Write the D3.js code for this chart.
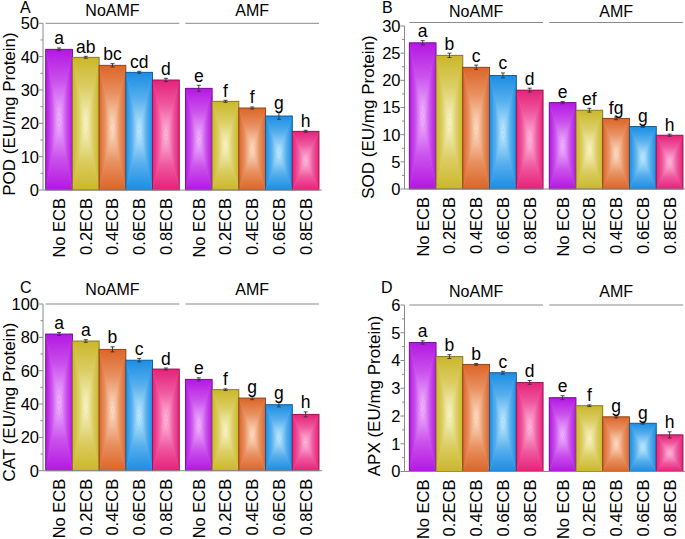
<!DOCTYPE html>
<html><head><meta charset="utf-8">
<script src="https://cdn.jsdelivr.net/npm/d3@7/dist/d3.min.js"></script>
<style>
html,body{margin:0;padding:0;background:#fff;}
svg{display:block;font-family:"Liberation Sans",Arial,sans-serif;}
</style></head>
<body>
<svg id="chart" width="685" height="539"></svg>
<script>
// ---------------- DATA ----------------
const groups = ["NoAMF", "AMF"];
const treatments = ["No ECB", "0.2ECB", "0.4ECB", "0.6ECB", "0.8ECB"];
const panelIds = ["A", "B", "C", "D"];
const yTitles = ["POD (EU/mg Protein)", "SOD (EU/mg Protein)", "CAT (EU/mg Protein)", "APX (EU/mg Protein)"];

// values in order: NoAMF (5 treatments), then AMF (5 treatments)
const podMean = [42.2, 39.8, 37.4, 35.3, 33.0, 30.5, 26.6, 24.6, 22.2, 17.6];
const podErr  = [0.4, 0.3, 0.5, 0.3, 0.5, 0.9, 0.3, 0.3, 1.0, 0.3];
const podLetters = ["a","ab","bc","cd","d","e","f","f","g","h"];
const podTicks = [0, 10, 20, 30, 40, 50];
const podMinor = [5, 15, 25, 35, 45];

const sodMean = [26.9, 24.6, 22.4, 20.9, 18.2, 15.9, 14.5, 13.0, 11.5, 9.9];
const sodErr  = [0.4, 0.4, 0.4, 0.45, 0.35, 0.2, 0.35, 0.25, 0.15, 0.2];
const sodLetters = ["a","b","c","c","d","e","ef","fg","g","h"];
const sodTicks = [0, 5, 10, 15, 20, 25, 30];
const sodMinor = [2.5, 7.5, 12.5, 17.5, 22.5, 27.5];

const catMean = [82.0, 77.8, 72.8, 66.3, 61.0, 54.8, 48.6, 43.6, 39.6, 33.8];
const catErr  = [0.9, 0.8, 1.5, 1.0, 0.6, 0.9, 0.5, 1.0, 1.3, 1.5];
const catLetters = ["a","a","b","c","d","e","f","g","g","h"];
const catTicks = [0, 20, 40, 60, 80, 100];
const catMinor = [10, 30, 50, 70, 90];

const apxMean = [4.65, 4.14, 3.86, 3.56, 3.21, 2.66, 2.37, 1.97, 1.74, 1.32];
const apxErr  = [0.06, 0.07, 0.03, 0.05, 0.07, 0.07, 0.03, 0.04, 0.03, 0.11];
const apxLetters = ["a","b","b","c","d","e","f","g","g","h"];
const apxTicks = [0, 1, 2, 3, 4, 5, 6];
const apxMinor = [0.5, 1.5, 2.5, 3.5, 4.5, 5.5];

const baseColors  = ["#b417e2", "#cbb72a", "#dc6528", "#1b8de4", "#e6217a"];
const lightColors = ["#f2bcff", "#faf6cc", "#fee2cc", "#c6eeff", "#ffbfe0"];

// ---------------- LAYOUT ----------------
const layout = [
  {ax: 43,    y0: 190,   yTop: 23.3, gx0: 45.7,  gx1: 319, xEnd: 322, titleX: 14.5, titleY: 114, letX: 20,  letY: 13,  headY: 16,  lineY: 23.3, tickX: 39},
  {ax: 404.5, y0: 189,   yTop: 26,   gx0: 409.3, gx1: 683, xEnd: 685, titleX: 374,  titleY: 117, letX: 382, letY: 13,  headY: 16.5,lineY: 22.5, tickX: 400.5},
  {ax: 43,    y0: 470.7, yTop: 304,  gx0: 45.7,  gx1: 319, xEnd: 322, titleX: 14.5, titleY: 402, letX: 20,  letY: 293, headY: 295, lineY: 304,  tickX: 39},
  {ax: 404.5, y0: 471.5, yTop: 305,  gx0: 409.3, gx1: 683, xEnd: 685, titleX: 380,  titleY: 396, letX: 381, letY: 293, headY: 296.5,lineY: 305, tickX: 400.5}
];
const panelData = [
  {mean: podMean, err: podErr, letters: podLetters, ticks: podTicks, minor: podMinor},
  {mean: sodMean, err: sodErr, letters: sodLetters, ticks: sodTicks, minor: sodMinor},
  {mean: catMean, err: catErr, letters: catLetters, ticks: catTicks, minor: catMinor},
  {mean: apxMean, err: apxErr, letters: apxLetters, ticks: apxTicks, minor: apxMinor}
];

const svg = d3.select("#chart");
const defs = svg.append("defs");
const axisColor = "#8a8a8a";

// rectangular (box) gradient made of four triangles, each with its own linear gradient
baseColors.forEach((c, i) => {
  const dirs = {
    L: {x1: 0, y1: 0, x2: 1, y2: 0},
    R: {x1: 1, y1: 0, x2: 0, y2: 0},
    T: {x1: 0, y1: 0, x2: 0, y2: 1},
    B: {x1: 0, y1: 1, x2: 0, y2: 0}
  };
  const mid = d3.interpolateRgb(c, lightColors[i])(0.35);
  Object.entries(dirs).forEach(([k, d]) => {
    const g = defs.append("linearGradient").attr("id", `g${i}${k}`)
      .attr("x1", d.x1).attr("y1", d.y1).attr("x2", d.x2).attr("y2", d.y2);
    g.append("stop").attr("offset", 0).attr("stop-color", c);
    g.append("stop").attr("offset", 0.45).attr("stop-color", mid);
    g.append("stop").attr("offset", 1).attr("stop-color", lightColors[i]);
  });
});

panelIds.forEach((pid, pi) => {
  const L = layout[pi], D = panelData[pi];
  const g = svg.append("g");
  const yMax = D.ticks[D.ticks.length - 1];
  const y = d3.scaleLinear().domain([0, yMax]).range([L.y0, L.yTop]);
  const xg = d3.scaleBand().domain(groups).range([L.gx0, L.gx1]).paddingInner(0.044).paddingOuter(0);
  const xi = d3.scaleBand().domain(treatments).range([0, xg.bandwidth()]).padding(0);

  const rows = [];
  groups.forEach((grp, gi) => treatments.forEach((t, ti) => {
    const k = gi * treatments.length + ti;
    rows.push({grp, t, ti, v: D.mean[k], e: D.err[k], lab: D.letters[k]});
  }));

  // bars
  rows.forEach(r => {
    const x0 = xg(r.grp) + xi(r.t), w = xi.bandwidth();
    const x1 = x0 + w, yt = y(r.v), yb = y(0);
    const cx = x0 + w / 2, cy = (yt + yb) / 2;
    const bg = g.append("g");
    bg.append("rect").attr("x", x0).attr("y", yt).attr("width", w).attr("height", yb - yt)
      .attr("fill", d3.interpolateRgb(baseColors[r.ti], lightColors[r.ti])(0.4));
    const tri = (pts, id) => bg.append("polygon")
      .attr("points", pts.map(p => p.join(",")).join(" "))
      .attr("fill", `url(#g${r.ti}${id})`);
    tri([[x0, yt], [cx, cy], [x0, yb]], "L");
    tri([[x1, yt], [cx, cy], [x1, yb]], "R");
    tri([[x0, yt], [x1, yt], [cx, cy]], "T");
    tri([[x0, yb], [x1, yb], [cx, cy]], "B");
    bg.append("rect").attr("x", x0).attr("y", yt).attr("width", w).attr("height", yb - yt)
      .attr("fill", "none").attr("stroke", d3.color(baseColors[r.ti]).darker(1.3)).attr("stroke-width", 0.9);
    // error bar
    const eg = g.append("g").attr("stroke", "#333").attr("stroke-width", 0.9);
    eg.append("line").attr("x1", cx).attr("x2", cx).attr("y1", y(r.v - r.e)).attr("y2", y(r.v + r.e));
    eg.append("line").attr("x1", cx - 2).attr("x2", cx + 2).attr("y1", y(r.v + r.e)).attr("y2", y(r.v + r.e));
    eg.append("line").attr("x1", cx - 2).attr("x2", cx + 2).attr("y1", y(r.v - r.e)).attr("y2", y(r.v - r.e));
    // significance letter
    g.append("text").attr("x", cx).attr("y", y(r.v + r.e) - 3.5)
      .attr("text-anchor", "middle").attr("font-size", 17.5).attr("fill", "#000").text(r.lab);
    // x label
    g.append("text").attr("transform", `translate(${cx},${L.y0 + 8}) rotate(-90)`)
      .attr("text-anchor", "end").attr("dy", "0.36em").attr("font-size", 16.5).attr("fill", "#000").text(r.t);
  });

  // axes
  g.append("line").attr("x1", L.ax).attr("x2", L.xEnd).attr("y1", L.y0).attr("y2", L.y0)
    .attr("stroke", axisColor).attr("stroke-width", 1);
  g.append("line").attr("x1", L.ax).attr("x2", L.ax).attr("y1", L.y0).attr("y2", L.yTop)
    .attr("stroke", axisColor).attr("stroke-width", 1);
  D.ticks.forEach(t => {
    g.append("line").attr("x1", L.ax - 4).attr("x2", L.ax).attr("y1", y(t)).attr("y2", y(t))
      .attr("stroke", axisColor).attr("stroke-width", 1);
    g.append("text").attr("x", L.tickX).attr("y", y(t)).attr("dy", "0.36em")
      .attr("text-anchor", "end").attr("font-size", 16.5).attr("fill", "#000").text(t);
  });
  D.minor.forEach(t => {
    g.append("line").attr("x1", L.ax - 2.5).attr("x2", L.ax).attr("y1", y(t)).attr("y2", y(t))
      .attr("stroke", axisColor).attr("stroke-width", 1);
  });

  // group headers
  groups.forEach(grp => {
    g.append("line").attr("x1", xg(grp)).attr("x2", xg(grp) + xg.bandwidth())
      .attr("y1", L.lineY).attr("y2", L.lineY).attr("stroke", axisColor).attr("stroke-width", 1);
    g.append("text").attr("x", xg(grp) + xg.bandwidth() / 2).attr("y", L.headY)
      .attr("text-anchor", "middle").attr("font-size", 16).attr("fill", "#000").text(grp);
  });

  // y title
  g.append("text").attr("transform", `translate(${L.titleX},${L.titleY}) rotate(-90)`)
    .attr("text-anchor", "middle").attr("font-size", 17).attr("fill", "#000").text(yTitles[pi]);

  // panel letter
  g.append("text").attr("x", L.letX).attr("y", L.letY).attr("font-size", 16).attr("fill", "#000").text(pid);
});
</script>
</body></html>
